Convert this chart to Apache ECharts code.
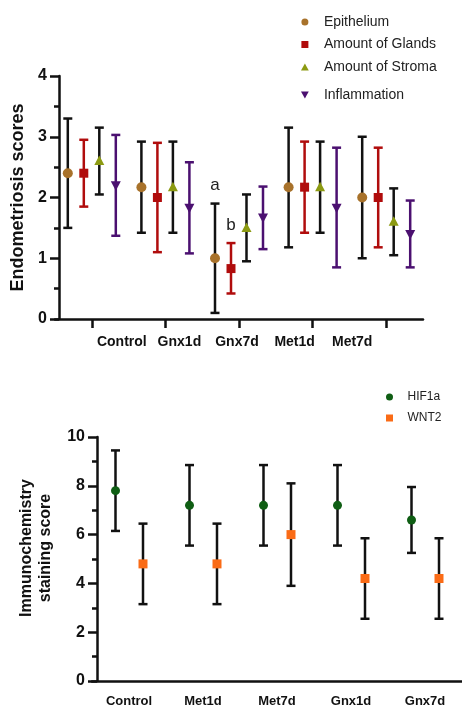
<!DOCTYPE html>
<html>
<head>
<meta charset="utf-8">
<script src="https://cdn.jsdelivr.net/npm/echarts@6/dist/echarts.min.js"></script>
<style>
  html, body { margin: 0; background: #fff; }
  #main { width: 462px; height: 709px; }
</style>
</head>
<body>
<div id="main"></div>
<script>
// ---- top chart: endometriosis scores ----
const topGroups = ['Control', 'Gnx1d', 'Gnx7d', 'Met1d', 'Met7d'];
const epiMean = [2.4, 2.17, 1.0, 2.17, 2.0];
const epiLow = [1.5, 1.42, 0.1, 1.18, 1.0];
const epiHigh = [3.3, 2.92, 1.9, 3.15, 3.0];
const glandMean = [2.4, 2.0, 0.83, 2.17, 2.0];
const glandLow = [1.85, 1.1, 0.42, 1.42, 1.18];
const glandHigh = [2.95, 2.9, 1.25, 2.92, 2.82];
const stromaMean = [2.6, 2.17, 1.5, 2.17, 1.6];
const stromaLow = [2.05, 1.42, 0.95, 1.42, 1.05];
const stromaHigh = [3.15, 2.92, 2.05, 2.92, 2.15];
const inflMean = [2.2, 1.83, 1.67, 1.83, 1.4];
const inflLow = [1.37, 1.08, 1.15, 0.85, 0.85];
const inflHigh = [3.03, 2.58, 2.18, 2.82, 1.95];
const epiNotes = ['', '', 'a', '', ''];
const glandNotes = ['', '', 'b', '', ''];

// ---- bottom chart: immunochemistry ----
const bottomGroups = ['Control', 'Met1d', 'Met7d', 'Gnx1d', 'Gnx7d'];
const hifMean = [7.8, 7.2, 7.2, 7.2, 6.6];
const hifLow = [6.15, 5.55, 5.55, 5.55, 5.25];
const hifHigh = [9.45, 8.85, 8.85, 8.85, 7.95];
const wntMean = [4.8, 4.8, 6.0, 4.2, 4.2];
const wntLow = [3.15, 3.15, 3.9, 2.55, 2.55];
const wntHigh = [6.45, 6.45, 8.1, 5.85, 5.85];

const FONT = '"Liberation Sans", Arial, sans-serif';
const INK = '#111';

const rows = (mean, low, high) => mean.map((m, i) => [i, m, low[i], high[i]]);

function marker(shape, x, y, s, fill) {
  const h = s / 2;
  if (shape === 'circle') return { type: 'circle', shape: { cx: x, cy: y, r: h }, style: { fill } };
  if (shape === 'rect') return { type: 'rect', shape: { x: x - h, y: y - h, width: s, height: s }, style: { fill } };
  if (shape === 'up') return { type: 'polygon', shape: { points: [[x, y - h * 1.1], [x + h, y + h * 0.8], [x - h, y + h * 0.8]] }, style: { fill } };
  return { type: 'polygon', shape: { points: [[x, y + h * 1.1], [x + h, y - h * 0.8], [x - h, y - h * 0.8]] }, style: { fill } };
}

// error bar + marker, shifted dx pixels from the category centre
function errRender(dx, shape, size, fill, barColor, notes) {
  return (params, api) => {
    const i = api.value(0);
    const m = api.coord([i, api.value(1)]);
    const lo = api.coord([i, api.value(2)]);
    const hi = api.coord([i, api.value(3)]);
    const x = m[0] + dx, cw = 4.5;
    const ls = { stroke: barColor, lineWidth: 2.5 };
    const kids = [
      { type: 'line', shape: { x1: x, y1: lo[1], x2: x, y2: hi[1] }, style: ls },
      { type: 'line', shape: { x1: x - cw, y1: lo[1], x2: x + cw, y2: lo[1] }, style: ls },
      { type: 'line', shape: { x1: x - cw, y1: hi[1], x2: x + cw, y2: hi[1] }, style: ls },
      marker(shape, x, m[1], size, fill)
    ];
    const note = notes && notes[params.dataIndex];
    if (note) {
      kids.push({ type: 'text', style: { text: note, x: x, y: hi[1] - 18, align: 'center', verticalAlign: 'middle', font: '17px ' + FONT, fill: '#222' } });
    }
    return { type: 'group', children: kids };
  };
}

function errSeries(name, xi, yi, data, dx, shape, size, fill, barColor, notes) {
  return {
    name, type: 'custom', xAxisIndex: xi, yAxisIndex: yi,
    itemStyle: { color: fill },
    data, renderItem: errRender(dx, shape, size, fill, barColor, notes)
  };
}

const C_EPI = '#a8722b', C_GLA = '#b00c0c', C_STR = '#8c9a12', C_INF = '#4b1070';
const C_HIF = '#0f5e14', C_WNT = '#fa6b16';

const ICON_RECT = 'path://M0,0L10,0L10,10L0,10Z';
const ICON_UP = 'path://M5,0L10,9L0,9Z';
const ICON_DOWN = 'path://M0,0L10,0L5,9Z';

const axisLineStyle = { color: INK, width: 2.5 };

const chart = echarts.init(document.getElementById('main'));
chart.setOption({
  backgroundColor: '#fff',
  animation: false,
  legend: [
    {
      orient: 'vertical', left: 296, top: 10, itemWidth: 28, itemHeight: 7, itemGap: 8.5,
      textStyle: { fontFamily: FONT, fontSize: 14, color: '#222' },
      data: [
        { name: 'Epithelium', icon: 'circle' },
        { name: 'Amount of Glands', icon: ICON_RECT },
        { name: 'Amount of Stroma', icon: ICON_UP }
      ]
    },
    {
      orient: 'vertical', left: 296, top: 83, itemWidth: 28, itemHeight: 7,
      textStyle: { fontFamily: FONT, fontSize: 14, color: '#222' },
      data: [{ name: 'Inflammation', icon: ICON_DOWN }]
    },
    {
      orient: 'vertical', left: 381, top: 386, itemWidth: 26, itemHeight: 7, itemGap: 9,
      textStyle: { fontFamily: FONT, fontSize: 12, color: '#222' },
      data: [
        { name: 'HIF1a', icon: 'circle' },
        { name: 'WNT2', icon: ICON_RECT }
      ]
    }
  ],
  grid: [
    { left: 55, top: 76, width: 368, height: 243 },
    { left: 93, top: 300, width: 288, height: 19 },
    { left: 92, top: 437, width: 372, height: 244 }
  ],
  xAxis: [
    {
      type: 'category', gridIndex: 0, data: topGroups, boundaryGap: true,
      axisLine: { lineStyle: axisLineStyle },
      axisTick: { show: true, alignWithLabel: true, interval: 0, length: 9, lineStyle: axisLineStyle },
      axisLabel: { interval: 0, color: 'rgba(0,0,0,0)' }
    },
    {
      type: 'category', gridIndex: 1, data: topGroups, boundaryGap: true,
      axisLine: { show: false }, axisTick: { show: false },
      axisLabel: { interval: 0, margin: 16, fontFamily: FONT, fontSize: 14, fontWeight: 'bold', color: INK }
    },
    {
      type: 'category', gridIndex: 2, data: bottomGroups, boundaryGap: true,
      axisLine: { lineStyle: axisLineStyle },
      axisTick: { alignWithLabel: true, interval: 0, length: 9, lineStyle: axisLineStyle },
      axisLabel: { interval: 0, margin: 14, fontFamily: FONT, fontSize: 13, fontWeight: 'bold', color: INK }
    }
  ],
  yAxis: [
    {
      type: 'value', gridIndex: 0, min: 0, max: 4, interval: 1, offset: -4,
      name: 'Endometriosis scores', nameLocation: 'middle', nameGap: 32,
      nameTextStyle: { fontFamily: FONT, fontSize: 18, fontWeight: 'bold', color: INK },
      axisLine: { show: true, lineStyle: axisLineStyle },
      axisTick: { show: true, length: 9, lineStyle: axisLineStyle },
      minorTick: { show: true, splitNumber: 2, length: 5, lineStyle: { color: INK, width: 2.5 } },
      splitLine: { show: false },
      axisLabel: { margin: 12, fontFamily: FONT, fontSize: 16, fontWeight: 'bold', color: INK }
    },
    { type: 'value', gridIndex: 1, show: false },
    {
      type: 'value', gridIndex: 2, min: 0, max: 10, interval: 2, offset: -5,
      name: 'Immunochemistry\nstaining score', nameLocation: 'middle', nameGap: 42,
      nameTextStyle: { fontFamily: FONT, fontSize: 16, fontWeight: 'bold', color: INK, lineHeight: 19, padding: [0, 0, 0, 22] },
      axisLine: { show: true, lineStyle: axisLineStyle },
      axisTick: { show: true, length: 9, lineStyle: axisLineStyle },
      minorTick: { show: true, splitNumber: 2, length: 5, lineStyle: { color: INK, width: 2.5 } },
      splitLine: { show: false },
      axisLabel: { margin: 12, fontFamily: FONT, fontSize: 16, fontWeight: 'bold', color: INK }
    }
  ],
  series: [
    errSeries('Epithelium', 0, 0, rows(epiMean, epiLow, epiHigh), -24, 'circle', 10, C_EPI, INK, epiNotes),
    errSeries('Amount of Glands', 0, 0, rows(glandMean, glandLow, glandHigh), -8, 'rect', 9, C_GLA, C_GLA, glandNotes),
    errSeries('Amount of Stroma', 0, 0, rows(stromaMean, stromaLow, stromaHigh), 7.5, 'up', 10, C_STR, INK),
    errSeries('Inflammation', 0, 0, rows(inflMean, inflLow, inflHigh), 24, 'down', 10, C_INF, C_INF),
    errSeries('HIF1a', 2, 2, rows(hifMean, hifLow, hifHigh), -13.5, 'circle', 9, C_HIF, INK),
    errSeries('WNT2', 2, 2, rows(wntMean, wntLow, wntHigh), 14, 'rect', 9, C_WNT, INK)
  ]
});
</script>
</body>
</html>
